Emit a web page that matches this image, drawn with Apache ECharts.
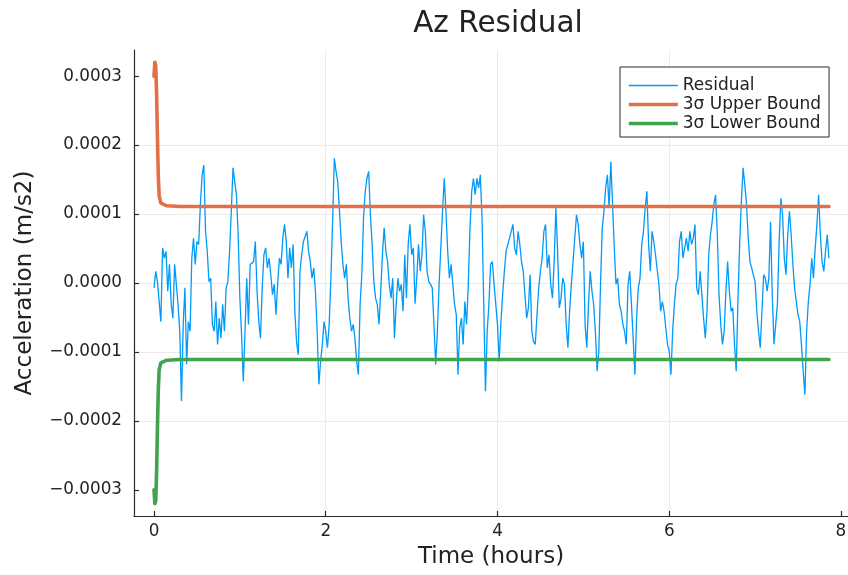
<!DOCTYPE html>
<html>
<head>
<meta charset="utf-8">
<title>Az Residual</title>
<script src="https://cdn.jsdelivr.net/npm/echarts@6/dist/echarts.min.js"></script>
<style>
  html, body { margin: 0; padding: 0; background: #ffffff; }
  #chart { width: 848px; height: 575px; }
</style>
</head>
<body>
<div id="chart"></div>
<script>
// Residual and bound values are listed in units of 1e-5 m/s2.
const UNIT = 1e-5;
const sampleStepHours = 0.02;

const seriesNames = ['Residual', '3σ Upper Bound', '3σ Lower Bound'];

// Az residual, one value every sampleStepHours from t = 0
const residual = [
  -0.7, 1.7, 0.2, -2.7, -5.6, 5.1, 3.6, 4.6, -1.2, 2.7,
  -3.0, -5.1, 2.7, -0.2, -3.1, -7.0, -17.1, -6.0, -0.7, -11.8,
  -5.6, -7.0, 3.6, 6.5, 2.7, 6.0, 5.6, 11.4, 15.7, 17.1,
  7.5, 4.6, 0.2, 0.7, -6.0, -7.0, -2.7, -8.9, -5.1, -8.0,
  -3.1, -7.0, -0.7, 0.2, 4.6, 10.4, 16.7, 14.7, 12.8, 7.0,
  -2.2, -7.5, -14.3, -7.0, 0.7, -6.0, 2.7, 2.7, 3.1, 6.0,
  -1.2, -5.6, -8.0, -0.7, 4.1, 5.1, 2.2, 3.6, 1.2, -1.7,
  -0.2, -4.6, -0.2, 3.6, 2.7, 6.5, 8.5, 6.0, 0.7, 5.1,
  2.2, 5.6, -4.1, -8.5, -10.4, 1.7, 4.1, 6.0, 6.0, 7.5,
  4.6, 3.1, 0.7, 2.2, -1.2, -7.0, -14.7, -11.4, -8.9, -5.6,
  -7.0, -9.4, -6.0, 0.7, 8.9, 18.1, 16.2, 14.7, 10.4, 6.0,
  2.7, 0.7, 2.7, -2.2, -5.1, -7.0, -6.0, -8.0, -11.4, -13.3,
  -3.1, 1.2, 9.4, 13.3, 15.2, 16.2, 9.9, 5.6, 0.2, -2.2,
  -3.1, -6.0,
  -1.2, 4.1, 8.0, 4.6, 3.1, -0.2, -2.2, 0.7, -8.0, -3.1,
  0.7, -1.2, -0.2, -4.1, 4.1, -2.2, 5.6, 8.5, 4.1, 5.1,
  -3.0, 0.7, 5.6, 1.7, 4.1, 9.9, 7.5, 1.7, 0.2, -0.2,
  -0.7, -6.0, -11.8, -7.0, -0.2, 5.1, 10.4, 15.2, 10.4, 4.6,
  0.7, 2.7, -0.2, -3.1, -4.6, -13.3, -6.5, -5.1, -8.9, -2.7,
  -6.0, -0.2, 8.0, 13.3, 15.2, 12.8, 15.2, 13.8, 15.7, 9.4,
  -3.1, -15.7, -7.0, -3.1, 2.7, 3.1, -0.2, -3.1, -6.0, -11.4,
  -5.6, -1.7, 1.7, 4.6, 5.6, 6.5, 7.5, 8.5, 5.1, 4.1,
  7.5, 5.6, 3.1, 1.7, -1.7, -5.1, -3.6, 1.2, -7.0, -8.5,
  -8.9, -4.6, -0.7, 1.7, 3.6, 7.5, 8.5, 2.2, 4.1, -0.2,
  -2.2, 3.1, 10.9, 4.6, -3.6, -2.2, 0.7, -0.2, -6.0, -9.4,
  -4.1, -0.2, 3.1, 6.5, 9.9, 8.5, 5.6, 3.6, 6.0, -6.0,
  -9.4, -3.1, 1.7, -1.2, -3.1, -7.0, -12.8, -9.9, -0.2, 8.0,
  10.4,
  13.8, 15.7, 10.9, 17.6, 11.4, 5.1, -0.2, 0.7, -3.1, -4.1,
  -6.0, -7.0, -8.9, -0.2, 1.7, -3.1, -8.0, -13.3, -5.1, -0.7,
  0.7, 5.6, 7.5, 10.9, 13.3, 5.6, 1.7, 7.5, 6.0, 4.1,
  4.1, -0.2, -4.1, -2.7, -4.1, -6.5, -8.9, -9.9, -13.3, -7.0,
  -3.1, -0.2, 0.7, 6.0, 7.5, 3.6, 5.1, 6.5, 4.6, 7.5,
  5.6, 6.5, 8.5, -0.7, -1.7, 1.7, -1.7, -5.1, -8.0, -4.1,
  4.1, 7.0, 8.9, 11.4, 12.8, 7.0, -1.7, -6.0, -8.9, -7.0,
  -1.2, 3.1, -1.2, -4.1, -3.6, -8.9, -12.8, -2.7, 5.6, 11.8,
  16.7, 14.3, 11.4, 6.5, 3.1, 2.2, 1.2, 0.2, -4.1, -7.0,
  -9.4, -4.1, 1.2, 0.7, -1.2, 0.7, 8.9, -1.7, -8.9, -6.0,
  -3.1, 6.0, 12.3, 9.9, 3.6, 1.2, 7.0, 10.4, 7.0, 2.7,
  -0.7, -2.7, -4.6, -5.6, -8.9, -12.8, -16.2, -7.0, -2.7, -0.2,
  3.6, 0.7, 5.1, 8.5, 12.8, 7.0, 3.1, 1.7, 4.6, 7.0,
  3.6
];

// 3-sigma envelope (hours, 1e-5 m/s2)
const boundTimes = [0, 0.01, 0.02, 0.03, 0.04, 0.05, 0.06, 0.08, 0.15, 0.3, 1, 2, 3, 4, 5, 6, 7, 7.86];
const upperBound = [30.0, 32.0, 31.6, 27.5, 21.0, 15.5, 12.6, 11.6, 11.2, 11.1, 11.1, 11.1, 11.1, 11.1, 11.1, 11.1, 11.1, 11.1];
const lowerBound = [-30.0, -32.0, -31.6, -27.5, -21.0, -15.5, -12.6, -11.6, -11.2, -11.1, -11.1, -11.1, -11.1, -11.1, -11.1, -11.1, -11.1, -11.1];

// Axis ticks
const xTickValues = [0, 2, 4, 6, 8];
const yTickValues = [-0.0003, -0.0002, -0.0001, 0, 0.0001, 0.0002, 0.0003];

const FONT = 'DejaVu Sans';
const TEXT = '#222222';
const AXIS = '#2b2b2b';
const GRID = '#ebebeb';

const residualData = residual.map((v, i) => [i * sampleStepHours, v * UNIT]);
const upperData = boundTimes.map((t, i) => [t, upperBound[i] * UNIT]);
const lowerData = boundTimes.map((t, i) => [t, lowerBound[i] * UNIT]);

const chart = echarts.init(document.getElementById('chart'), null, { renderer: 'canvas' });

chart.setOption({
  animation: false,
  backgroundColor: '#ffffff',
  title: {
    text: 'Az Residual',
    left: 493,
    top: 4,
    textAlign: 'center',
    textStyle: { fontFamily: FONT, fontSize: 29.5, fontWeight: 'normal', color: TEXT }
  },
  legend: {
    orient: 'vertical',
    left: 620,
    top: 67,
    padding: [10, 8, 5, 7],
    itemWidth: 49,
    itemHeight: 14,
    itemGap: 2,
    backgroundColor: '#ffffff',
    borderColor: AXIS,
    borderWidth: 1,
    borderRadius: 0,
    itemStyle: { opacity: 0 },
    lineStyle: { width: 'inherit', cap: 'butt' },
    textStyle: { fontFamily: FONT, fontSize: 17, color: TEXT },
    data: seriesNames
  },
  grid: {
    left: 134,
    right: 0,
    top: 50,
    bottom: 59,
    outerBoundsMode: 'none',
    containLabel: false
  },
  xAxis: {
    type: 'value',
    min: -0.233,
    max: 8.082,
    minInterval: 2,
    maxInterval: 2,
    name: 'Time (hours)',
    nameLocation: 'middle',
    nameGap: 30,
    nameTextStyle: { fontFamily: FONT, fontSize: 23, color: TEXT },
    axisLine: { show: true, onZero: false, lineStyle: { color: AXIS, width: 1.2 } },
    axisTick: { show: true, inside: true, length: 5, customValues: xTickValues, lineStyle: { color: AXIS, width: 1.2 } },
    axisLabel: {
      customValues: xTickValues,
      fontFamily: FONT, fontSize: 16.8, color: TEXT, margin: 7,
      formatter: v => String(v)
    },
    splitLine: { show: true, showMinLine: false, showMaxLine: false, lineStyle: { color: GRID, width: 1 } }
  },
  yAxis: {
    type: 'value',
    min: -0.000338,
    max: 0.000338,
    minInterval: 0.0001,
    maxInterval: 0.0001,
    name: 'Acceleration (m/s2)',
    nameLocation: 'middle',
    nameGap: 97,
    nameTextStyle: { fontFamily: FONT, fontSize: 23, color: TEXT },
    axisLine: { show: true, onZero: false, lineStyle: { color: AXIS, width: 1.2 } },
    axisTick: { show: true, inside: true, length: 5, customValues: yTickValues, lineStyle: { color: AXIS, width: 1.2 } },
    axisLabel: {
      customValues: yTickValues,
      fontFamily: FONT, fontSize: 16.8, color: TEXT, margin: 12,
      formatter: v => v.toFixed(4).replace('-', '\u2212')
    },
    splitLine: { show: true, showMinLine: false, showMaxLine: false, lineStyle: { color: GRID, width: 1 } }
  },
  series: [
    {
      name: seriesNames[0],
      type: 'line',
      data: residualData,
      symbol: 'none',
      color: '#009af9',
      lineStyle: { color: '#009af9', width: 1.3 },
      z: 2
    },
    {
      name: seriesNames[1],
      type: 'line',
      data: upperData,
      symbol: 'none',
      color: '#e36f47',
      lineStyle: { color: '#e36f47', width: 3.6, cap: 'round', join: 'round' },
      z: 3
    },
    {
      name: seriesNames[2],
      type: 'line',
      data: lowerData,
      symbol: 'none',
      color: '#3ea44e',
      lineStyle: { color: '#3ea44e', width: 3.6, cap: 'round', join: 'round' },
      z: 4
    }
  ]
});
</script>
</body>
</html>
